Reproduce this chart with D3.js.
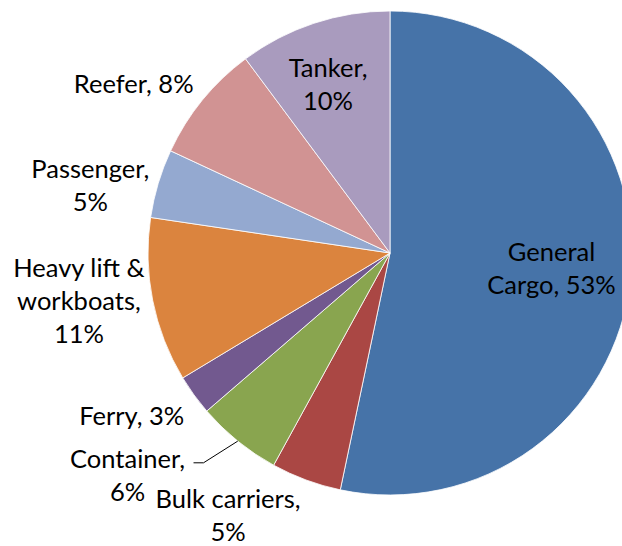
<!DOCTYPE html>
<html>
<head>
<meta charset="utf-8">
<script src="https://cdn.jsdelivr.net/npm/d3@7"></script>
<style>
  html, body { margin: 0; padding: 0; background: #fff; }
  svg { display: block; }
  text { font-family: Lato, "Open Sans", sans-serif; font-size: 25.5px; fill: #000; }
</style>
</head>
<body>
<svg id="chart" width="622" height="546"></svg>
<script>
// Fleet composition by vessel type (share of total, %)
const categories = ["General Cargo", "Bulk carriers", "Container", "Ferry",
                    "Heavy lift & workboats", "Passenger", "Reefer", "Tanker"];
const shares = [53.4, 4.7, 5.7, 2.7, 11.0, 4.6, 7.9, 10.2];

// Slice fills
const colors = ["#4673A8", "#AA4744", "#89A54F", "#72598F",
                "#DB843E", "#94A9D0", "#D19393", "#A99BBE"];

// Label text lines ("{pct}" replaced by the rounded share)
const labelLines = [
  ["General", "Cargo, {pct}"],
  ["Bulk carriers,", "{pct}"],
  ["Container,", "{pct}"],
  ["Ferry, {pct}"],
  ["Heavy lift &", "workboats,", "{pct}"],
  ["Passenger,", "{pct}"],
  ["Reefer, {pct}"],
  ["Tanker,", "{pct}"]
];
// Label placement: [angle in degrees clockwise from 12 o'clock, distance as fraction of radius]
const labelPlacement = [
  [95, 0.67], [211.8, 1.27], [229.8, 1.42], [237.9, 1.26],
  [261.4, 1.30], [282.8, 1.27], [303.5, 1.27], [339.9, 0.745]
];

const width = 622, height = 546;
const cx = 390, cy = 253, radius = 242;
const lineHeight = 33;

const svg = d3.select("#chart");
const g = svg.append("g").attr("transform", `translate(${cx},${cy})`);

const total = d3.sum(shares);
const pie = d3.pie().sort(null).value(d => d)(shares);
const arc = d3.arc().innerRadius(0).outerRadius(radius);

g.selectAll("path.slice")
  .data(pie)
  .join("path")
  .attr("class", "slice")
  .attr("d", arc)
  .attr("fill", (d, i) => colors[i])
  .attr("stroke", "#fff")
  .attr("stroke-width", 0.8);

const rad = deg => deg * Math.PI / 180;
const polar = (deg, r) => [Math.sin(rad(deg)) * r, -Math.cos(rad(deg)) * r];

// Leader line for the Container label
{
  const d = pie[2];
  const mid = (d.startAngle + d.endAngle) / 2;
  const p0 = [Math.sin(mid) * radius, -Math.cos(mid) * radius];
  const [lx, ly] = polar(labelPlacement[2][0], labelPlacement[2][1] * radius);
  const p2 = [lx + 66, ly - 12];
  const p1 = [p2[0] + 10, p2[1]];
  g.append("path")
    .attr("d", d3.line()([p0, p1, p2]))
    .attr("fill", "none")
    .attr("stroke", "#000")
    .attr("stroke-width", 1);
}

pie.forEach((d, i) => {
  const pct = Math.round(d.value / total * 100) + "%";
  const lines = labelLines[i].map(s => s.replace("{pct}", pct));
  const [x, y] = polar(labelPlacement[i][0], labelPlacement[i][1] * radius);
  const y0 = y - (lines.length - 1) * lineHeight / 2;
  const t = g.append("text")
    .attr("text-anchor", "middle")
    .attr("dominant-baseline", "central");
  lines.forEach((ln, k) => {
    t.append("tspan").attr("x", x).attr("y", y0 + k * lineHeight).text(ln);
  });
});
</script>
</body>
</html>
